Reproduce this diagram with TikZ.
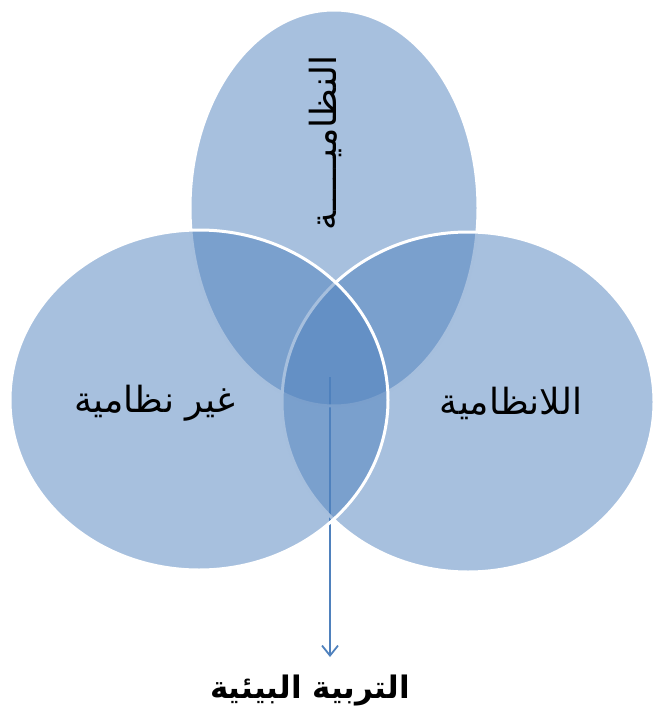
\documentclass[tikz,border=0pt]{standalone}
\usepackage{fontspec}
\newfontfamily\arabicfont[Script=Arabic]{DejaVu Sans}
\TeXXeTstate=1
\usetikzlibrary{arrows.meta,shapes.geometric}
\definecolor{vennblue}{HTML}{4F81BD}
\tikzset{
  vennset/.style={ellipse, inner sep=0pt, fill=vennblue, fill opacity=0.5, draw=white, draw opacity=1, line width=3pt},
  arlabel/.style={font=\arabicfont\fontsize{36}{42}\selectfont, text=black, inner sep=0pt},
  arrowline/.style={draw=vennblue, line width=2.2pt, -{Straight Barb[length=10pt,width=16pt,line width=1.8pt]}}
}
\begin{document}
\begin{tikzpicture}[x=1pt,y=-1pt]
\useasboundingbox (0,0) rectangle (653,722);
\coordinate (astart) at (330,377);
\coordinate (aend) at (330,657);
\draw[arrowline] (astart) -- (aend);
\node[vennset, minimum width=288pt, minimum height=396pt] (top) at (334,208) {};
\node[vennset, minimum width=372pt, minimum height=340pt] (right) at (468,402) {};
\node[vennset, minimum width=378pt, minimum height=340pt] (left) at (199,400) {};
\node[arlabel, rotate=90] (ltop) at (325,143) {\beginR النظاميـــــة\endR};
\node[arlabel] (lleft) at (155,403) {\beginR غير نظامية\endR};
\node[arlabel] (lright) at (511,403) {\beginR اللانظامية\endR};
\node[arlabel, font=\arabicfont\bfseries\fontsize{31}{36}\selectfont] (lbottom) at (310,690) {\beginR التربية البيئية\endR};
\end{tikzpicture}
\end{document}
